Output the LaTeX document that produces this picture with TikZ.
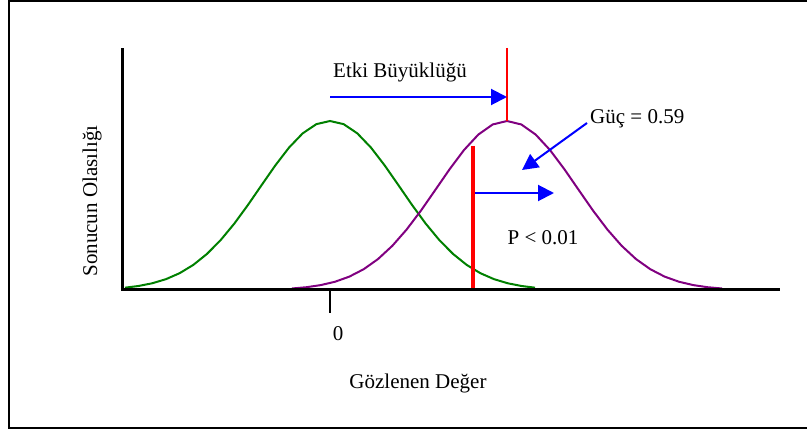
\documentclass[tikz,border=0pt]{standalone}
\usepackage{fontspec}
\setmainfont{Liberation Serif}
\usetikzlibrary{arrows.meta}
\definecolor{cgreen}{HTML}{008000}
\definecolor{cpurple}{HTML}{800080}
\definecolor{cblue}{HTML}{0000FF}
\definecolor{cred}{HTML}{FF0000}
\tikzset{
  axis/.style={line width=3pt, line cap=rect},
  curve/.style={line width=2pt},
  barrow/.style={cblue, line width=2pt, -{Triangle[length=16pt, width=16pt]}},
  lbl/.style={font=\fontsize{21}{25}\selectfont, inner sep=0pt},
}
\begin{document}
\begin{tikzpicture}[x=1pt, y=-1pt]
  \useasboundingbox (0,0) rectangle (807,433);
  % frame
  \draw[line width=1.5pt] (809,1) -- (9,1) -- (9,428) -- (809,428);
  % null and alternative curves
  \draw[cgreen, curve] plot[domain=-205:205, samples=31] ({330+\x}, {290-169*exp(-0.5*(\x/70)^2)});
  \draw[cpurple, curve] plot[domain=-215:215, samples=31] ({507+\x}, {290-169*exp(-0.5*(\x/70)^2)});
  % critical value and effect size markers
  \coordinate (peak) at (507,121);
  \coordinate (peaktop) at (507,48);
  \coordinate (crit) at (473,290);
  \coordinate (crittop) at (473,146);
  \draw[cred, line width=1.5pt] (peaktop) -- (peak);
  \draw[cred, line width=4pt] (crittop) -- (crit);
  % axes
  \coordinate (origin) at (122,290);
  \coordinate (ytop) at (122,50);
  \coordinate (xend) at (778,290);
  \coordinate (tick) at (330,290);
  \coordinate (tickend) at (330,313);
  \draw[axis] (ytop) -- (origin) -- (xend);
  \draw[line width=1.5pt] (tick) -- (tickend);
  % labels
  \node[lbl, anchor=west] (etki) at (333,72) {Etki Büyüklüğü};
  \node[lbl, anchor=west] (guc) at (590,119) {Güç = 0.59};
  \node[lbl] (pval) at (543,238) {P < 0.01};
  \node[lbl] (zero) at (338,334) {0};
  \node[lbl] (xlab) at (418,383) {Gözlenen Değer};
  \node[lbl, rotate=90] (ylab) at (92,201) {Sonucun Olasılığı};
  % arrows
  \coordinate (etkiS) at (330,97);
  \coordinate (etkiE) at (507,97);
  \coordinate (pS) at (475,193);
  \coordinate (pE) at (554,193);
  \coordinate (gucS) at (587,123);
  \coordinate (gucE) at (522,170);
  \draw[barrow] (etkiS) -- (etkiE);
  \draw[barrow] (pS) -- (pE);
  \draw[barrow] (gucS) -- (gucE);
\end{tikzpicture}
\end{document}
